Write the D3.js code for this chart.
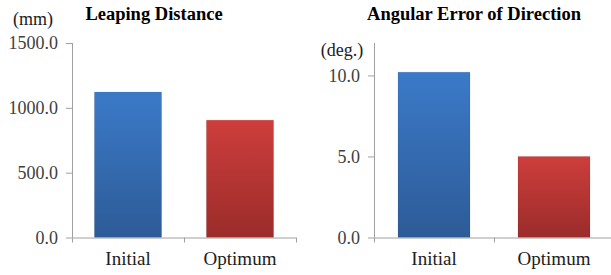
<!DOCTYPE html>
<html>
<head>
<meta charset="utf-8">
<script src="https://cdn.jsdelivr.net/npm/d3@7"></script>
<style>
  body { margin: 0; background: #fff; }
  svg { display: block; }
  svg text { font-family: "Liberation Serif", "DejaVu Serif", serif !important; }
</style>
</head>
<body>
<div class="chartContainer"></div>
<script>
var categories = ["Initial", "Optimum"]
var distanceValues = [1122, 905]
var distanceTicks = [0, 500, 1000, 1500]
var angleValues = [10.2, 5.0]
var angleTicks = [0, 5, 10]

var svg = d3.select(".chartContainer")
    .append("svg")
    .attr("width", 611)
    .attr("height", 275)

// gradients for the bars
var defs = svg.append("defs")
function grad(id, top, bottom) {
    var g = defs.append("linearGradient")
        .attr("id", id)
        .attr("x1", 0).attr("y1", 0).attr("x2", 0).attr("y2", 1)
    g.append("stop").attr("offset", "0%").attr("stop-color", top)
    g.append("stop").attr("offset", "100%").attr("stop-color", bottom)
}
grad("blueGrad", "#3b7ac8", "#2d5b97")
grad("redGrad", "#cd3e3c", "#9b2c2a")
var fills = ["url(#blueGrad)", "url(#redGrad)"]

function drawChart(opts) {
    var x = d3.scaleBand()
        .domain(categories)
        .range([opts.left, opts.right])
        .paddingInner(0.4)
        .paddingOuter(0.2)

    var y = d3.scaleLinear()
        .domain([0, opts.max])
        .range([237.5, 43])

    var g = svg.append("g")

    // bars
    g.selectAll("rect.bar")
        .data(opts.values)
        .enter()
        .append("rect")
        .classed("bar", true)
        .attr("x", (d, i) => x(categories[i]))
        .attr("y", d => y(d))
        .attr("width", x.bandwidth())
        .attr("height", d => y(0) - y(d))
        .attr("fill", (d, i) => fills[i])
        .attr("stroke", "rgba(0,0,0,0.08)")
        .attr("stroke-width", 1)

    // y axis
    var yAxis = g.append("g")
        .attr("transform", "translate(" + opts.left + ",0)")
        .call(d3.axisLeft(y).tickValues(opts.ticks).tickSize(6).tickPadding(8)
            .tickFormat(d3.format(".1f")))
    yAxis.attr("font-family", null)
    yAxis.select(".domain").attr("stroke", "#a0a0a0").attr("d", "M0.5," + y(opts.max) + "V" + y(0))
    yAxis.selectAll(".tick line").attr("stroke", "#a0a0a0")
    yAxis.selectAll(".tick text")
        .attr("fill", "#404040")
        .style("font-size", "18px")

    // x axis
    var xAxis = g.append("g")
        .attr("transform", "translate(0," + y(0) + ")")
        .call(d3.axisBottom(x).tickSize(0).tickPadding(14))
    xAxis.attr("font-family", null)
    xAxis.select(".domain").attr("stroke", "#a0a0a0")
        .attr("d", "M" + opts.left + ",0.5H" + opts.right)
    xAxis.selectAll(".tick text")
        .attr("fill", "#202020")
        .style("font-size", "19px")
    // category separators
    xAxis.selectAll("line.sep")
        .data([opts.left, (opts.left + opts.right) / 2, opts.right])
        .enter()
        .append("line")
        .classed("sep", true)
        .attr("x1", d => d + 0.5).attr("x2", d => d + 0.5)
        .attr("y1", 0).attr("y2", 5)
        .attr("stroke", "#a0a0a0")

    // unit label
    g.append("text")
        .attr("x", opts.unitX)
        .attr("y", opts.unitY)
        .attr("text-anchor", "middle")
        .attr("fill", "#202020")
        .style("font-size", "18px")
        .text(opts.unit)

    // title
    g.append("text")
        .attr("x", opts.titleX)
        .attr("y", 20)
        .attr("text-anchor", "middle")
        .attr("fill", "#000")
        .style("font-size", "18.5px")
        .style("font-weight", "bold")
        .text(opts.title)
}

drawChart({
    left: 72, right: 296, max: 1500,
    values: distanceValues, ticks: distanceTicks,
    unit: "(mm)", unitX: 33, unitY: 25,
    title: "Leaping Distance", titleX: 154
})

drawChart({
    left: 374, right: 614, max: 12,
    values: angleValues, ticks: angleTicks,
    unit: "(deg.)", unitX: 342, unitY: 56,
    title: "Angular Error of Direction", titleX: 474
})
</script>
</body>
</html>
